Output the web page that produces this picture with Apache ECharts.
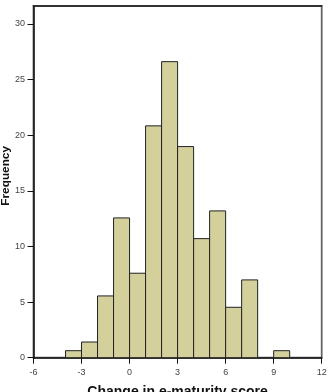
<!DOCTYPE html>
<html><head><meta charset="utf-8">
<script src="https://cdn.jsdelivr.net/npm/echarts@6/dist/echarts.min.js"></script>
<style>html,body{margin:0;padding:0;background:#fff}#c{width:330px;height:392px}</style>
</head><body><div id="c"></div>
<script>
const binStart = [-4, -3, -2, -1, 0, 1, 2, 3, 4, 5, 6, 7, 8, 9];
const binWidth = 1;
const frequency = [0.63, 1.41, 5.55, 12.56, 7.59, 20.83, 26.6, 18.97, 10.7, 13.19, 4.53, 6.99, 0, 0.63];
const xTicks = [-6, -3, 0, 3, 6, 9, 12];
const yTicks = [0, 5, 10, 15, 20, 25, 30];

const chart = echarts.init(document.getElementById('c'));
chart.setOption({
  animation: false,
  grid: {left: 33.5, right: 8.3, top: 6, bottom: 34.3, show: true, borderColor: '#666', borderWidth: 1.8, containLabel: false, outerBoundsMode: 'none'},
  xAxis: [{
    type: 'value', min: -6, max: 12, interval: 3,
    name: 'Change in e-maturity score', nameLocation: 'middle', nameGap: 27, nameMoveOverlap: false,
    nameTextStyle: {fontFamily: 'Liberation Sans', fontWeight: 'bold', fontSize: 14, color: '#111'},
    axisLine: {show: true, onZero: false, lineStyle: {color: '#111', width: 1.5}},
    axisTick: {show: true, length: 6, lineStyle: {color: '#111'}},
    axisLabel: {fontFamily: 'Liberation Sans', fontSize: 9, color: '#444', margin: 10},
    splitLine: {show: false}
  }, {
    type: 'value', position: 'top', min: -6, max: 12,
    axisLine: {show: true, onZero: false, lineStyle: {color: '#222', width: 1.5}},
    axisTick: {show: false}, axisLabel: {show: false}, splitLine: {show: false}
  }],
  yAxis: {
    type: 'value', min: 0, max: 31.6,
    name: 'Frequency', nameLocation: 'middle', nameGap: 22, nameMoveOverlap: false,
    nameTextStyle: {fontFamily: 'Liberation Sans', fontWeight: 'bold', fontSize: 11.8, color: '#111', padding: [0, 0, 0, 12]},
    axisLine: {show: true, onZero: false, lineStyle: {color: '#111', width: 1.5}},
    axisTick: {show: true, length: 6, customValues: yTicks, lineStyle: {color: '#111'}},
    axisLabel: {fontFamily: 'Liberation Sans', fontSize: 9, color: '#444', margin: 8.5, customValues: yTicks},
    splitLine: {show: false}
  },
  series: [{
    type: 'custom',
    xAxisIndex: 0,
    data: binStart.map((s, i) => [s, frequency[i]]),
    renderItem: function (params, api) {
      const x0 = api.value(0), v = api.value(1);
      if (v <= 0) return null;
      const p0 = api.coord([x0, 0]);
      const p1 = api.coord([x0 + binWidth, v]);
      return {
        type: 'rect',
        shape: {x: p0[0], y: p1[1], width: p1[0] - p0[0], height: p0[1] - p1[1]},
        style: {fill: '#d3d09c', stroke: '#222', lineWidth: 1}
      };
    }
  }]
});
</script></body></html>
